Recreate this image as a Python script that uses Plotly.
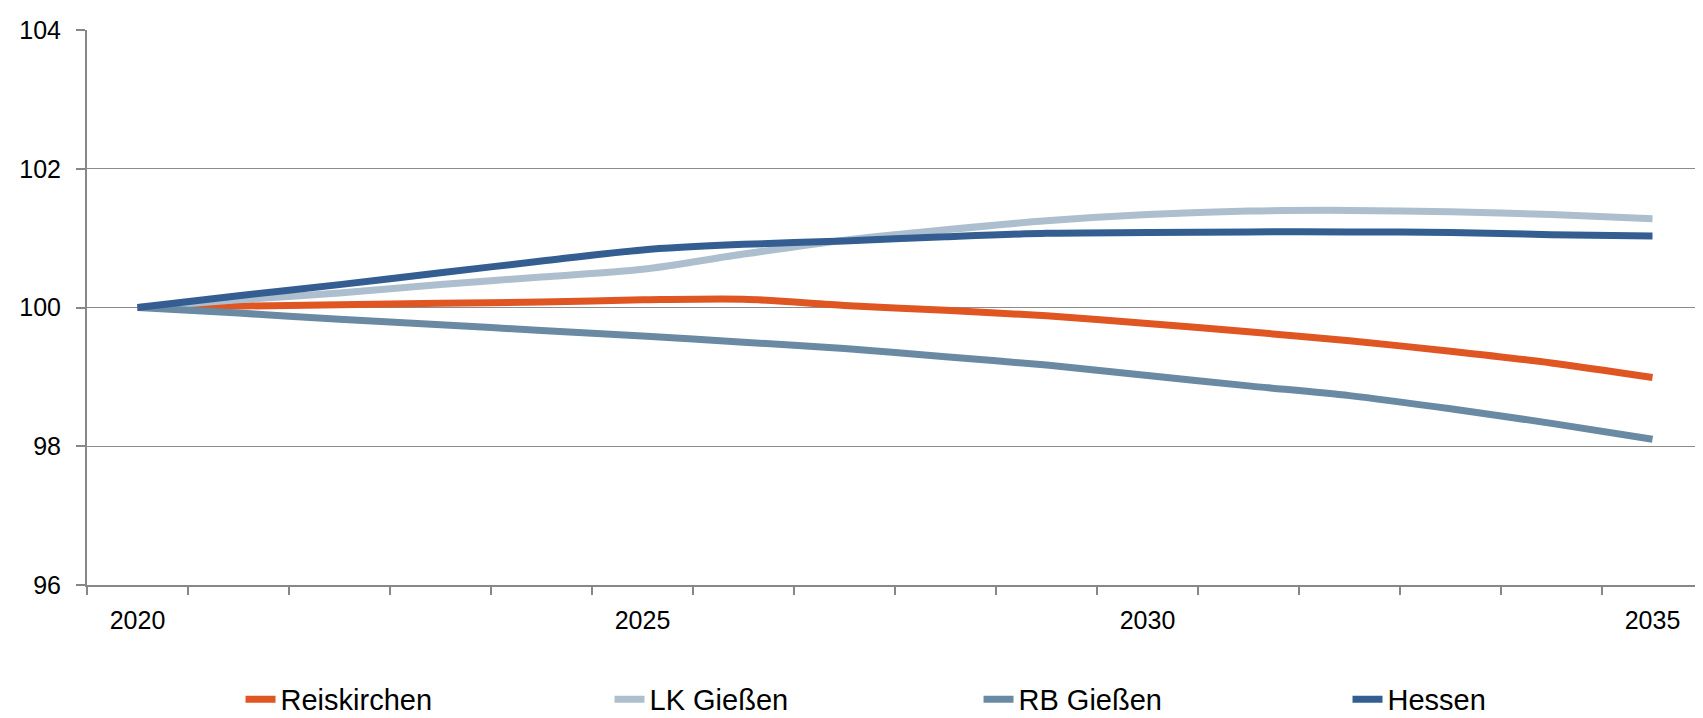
import plotly.graph_objects as go

years = [str(y) for y in range(2020, 2036)]
year_labels = ['2020', '', '', '', '', '2025', '', '', '', '', '2030', '', '', '', '', '2035']

reiskirchen = [100.00, 100.02, 100.04, 100.06, 100.08, 100.11, 100.12, 100.03, 99.96, 99.88,
               99.77, 99.65, 99.52, 99.37, 99.20, 98.99]
lk_giessen = [100.00, 100.11, 100.21, 100.33, 100.44, 100.55, 100.77, 100.97, 101.12, 101.25,
              101.34, 101.39, 101.40, 101.38, 101.34, 101.28]
rb_giessen = [100.00, 99.92, 99.83, 99.75, 99.67, 99.59, 99.50, 99.41, 99.29, 99.17,
              99.02, 98.87, 98.73, 98.54, 98.33, 98.10]
hessen = [100.00, 100.17, 100.33, 100.50, 100.67, 100.83, 100.91, 100.96, 101.02, 101.07,
          101.08, 101.09, 101.09, 101.08, 101.05, 101.03]

series = [('Reiskirchen', reiskirchen, '#DF5622'),
          ('LK Gießen', lk_giessen, '#ADBFCE'),
          ('RB Gießen', rb_giessen, '#6A8AA3'),
          ('Hessen', hessen, '#345E91')]

font_family = 'Liberation Sans, Arial, sans-serif'

fig = go.Figure()
for name, vals, col in series:
    fig.add_trace(go.Scatter(x=years, y=vals, name=name, mode='lines',
                             line=dict(color=col, width=7, shape='spline', smoothing=0.8)))

# page body has an 8px margin, so the figure is a bit smaller than the window
fig.update_layout(width=1695,
                  height=710,
                  margin=dict(l=79, r=0, t=22, b=133, autoexpand=False),
                  plot_bgcolor='white',
                  paper_bgcolor='white',
                  font=dict(family=font_family, size=25, color='black'),
                  hovermode=False,
                  legend=dict(orientation='h',
                              xanchor='left', yanchor='middle',
                              x=0.095, y=-0.206,
                              entrywidth=324, entrywidthmode='pixels',
                              font=dict(size=29),
                              itemwidth=30,
                              traceorder='normal'),
                  xaxis=dict(type='category',
                             range=[-0.5, 15.5],
                             tickmode='array',
                             tickvals=years,
                             ticktext=year_labels,
                             tickson='boundaries',
                             ticks='outside', ticklen=8, tickwidth=2, tickcolor='#878787',
                             showline=True, linecolor='#878787', linewidth=2,
                             showgrid=False,
                             ticklabelstandoff=12,
                             tickfont=dict(size=25)),
                  yaxis=dict(range=[96, 104],
                             tickmode='linear', tick0=96, dtick=2,
                             ticks='outside', ticklen=9, tickwidth=2, tickcolor='#878787',
                             showline=True, linecolor='#878787', linewidth=2,
                             showgrid=True, gridcolor='#8C8C8C', gridwidth=1,
                             zeroline=False,
                             ticklabelstandoff=10,
                             tickfont=dict(size=25)))

fig.write_html("out.html")
